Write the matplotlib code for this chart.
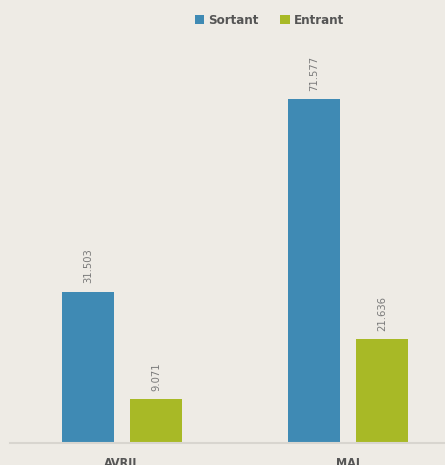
import numpy as np
import matplotlib.pyplot as plt
from matplotlib.patches import Patch

plt.rcParams['font.family'] = ['DejaVu Sans']
plt.rcParams['font.stretch'] = 'condensed'

#> Data
months = ['AVRIL', 'MAI']
sortant = [31.503, 71.577]
entrant = [9.071, 21.636]
seriesNames = ['Sortant', 'Entrant']
seriesColors = ['#3F8AB4', '#A8B926']

bgColor = '#EEEBE5'

#> Figure
fig = plt.figure(figsize=(4.45, 4.65), dpi=100, facecolor=bgColor)
ax = fig.add_axes([10 / 445, 22 / 465, 435 / 445, 384.5 / 465])
ax.set_facecolor(bgColor)

x = np.arange(len(months))
barWidth = 0.23
offset = 0.15
for values, color, sign in [(sortant, seriesColors[0], -1), (entrant, seriesColors[1], 1)]:
    bars = ax.bar(x + sign * offset, values, width=barWidth, color=color, zorder=2)
    for rect, v in zip(bars, values):
        ax.annotate(f'{v:.3f}', (rect.get_x() + rect.get_width() / 2, rect.get_height()),
                    xytext=(0, 6), textcoords='offset points', rotation=90,
                    ha='center', va='bottom', fontsize=8, color='#7A7A7A',
                    fontstretch='condensed')

ax.set_xlim(-112 / 226, -112 / 226 + 435 / 226)
ax.set_ylim(0, 80)
ax.set_xticks(x, months)
ax.tick_params(axis='x', length=0, pad=10, labelsize=9, labelcolor='#555555')
ax.set_yticks([])
for side in ['top', 'right', 'left']:
    ax.spines[side].set_visible(False)
ax.spines['bottom'].set_color('#D8D5CF')
ax.spines['bottom'].set_linewidth(1.5)
for lbl in ax.get_xticklabels():
    lbl.set_fontweight('bold')

handles = [Patch(facecolor=c, label=n) for n, c in zip(seriesNames, seriesColors)]
leg = fig.legend(handles=handles, loc='upper center', bbox_to_anchor=(0.605, 0.995), ncol=2,
                 frameon=False, handlelength=0.75, handleheight=0.75, handletextpad=0.3,
                 columnspacing=1.6, fontsize=9.5)
for t in leg.get_texts():
    t.set_color('#555555')
    t.set_fontweight('bold')

fig.savefig('out.png', dpi=100, facecolor=bgColor)
